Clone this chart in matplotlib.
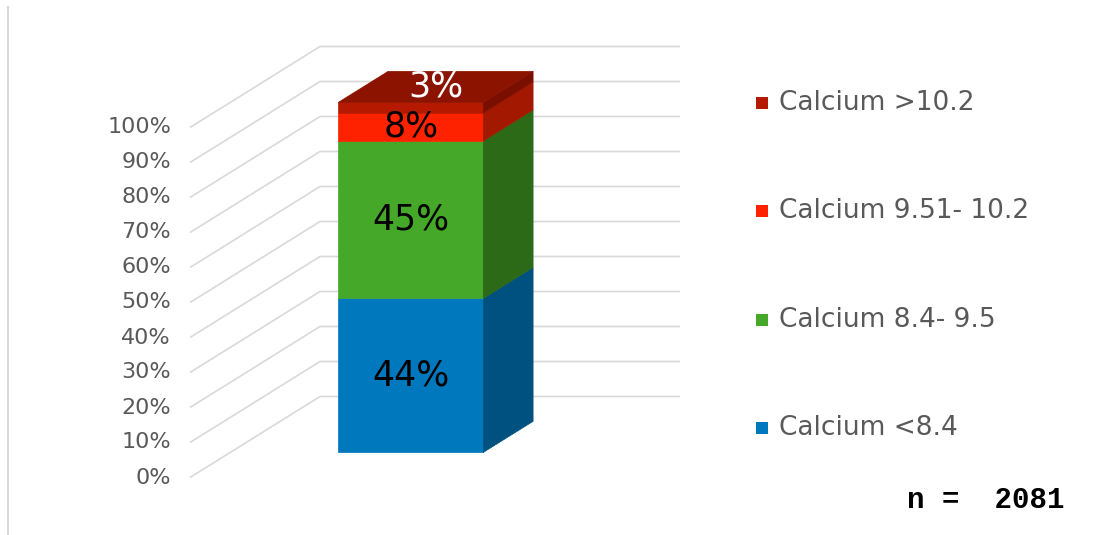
import numpy as np
import matplotlib
matplotlib.use("Agg")
import matplotlib.pyplot as plt
from matplotlib.patches import Polygon, Rectangle
from matplotlib.lines import Line2D

# --- data -------------------------------------------------------------
categories = ["Calcium <8.4", "Calcium 8.4- 9.5", "Calcium 9.51- 10.2", "Calcium >10.2"]
shares = [44, 45, 8, 3]
tick_values = [0, 10, 20, 30, 40, 50, 60, 70, 80, 90, 100]
tick_labels = [f"{v}%" for v in tick_values]
sample_size = 2081

# --- style ------------------------------------------------------------
front_colors = ["#0078BE", "#45A828", "#FF2200", "#B51A00"]
side_colors = ["#00517F", "#2D6A17", "#A31800", "#7A0F00"]
top_color = "#8C1300"
legend_colors = ["#0078BE", "#45A828", "#FF2200", "#B31A00"]
label_colors = ["black", "black", "black", "white"]
grid_color = "#D9D9D9"
text_grey = "#595959"

W, H = 1093, 535
fig = plt.figure(figsize=(W / 100, H / 100), dpi=100)
ax = fig.add_axes([0, 0, 1, 1])

# x runs in pixels, y in percent on the front plane
FLOOR_PX = 477.5
PX_PER_PCT = 3.5
ax.set_xlim(0, W)
ax.set_ylim(-(H - FLOOR_PX) / PX_PER_PCT, FLOOR_PX / PX_PER_PCT)
ax.axis("off")

# oblique projection for the depth axis (d = 0 front, d = 1 back wall)
DEPTH_DX = 130
DEPTH_DY = 81 / PX_PER_PCT


def proj(x, y, d):
    return x + d * DEPTH_DX, y + d * DEPTH_DY


# --- gridlines (side wall diagonal + back wall) ---------------------------
GRID_X0 = 190
GRID_X1 = 680
for v in tick_values:
    fx, fy = proj(GRID_X0, v, 0)
    bx, by = proj(GRID_X0, v, 1)
    ax.plot([fx, bx, GRID_X1], [fy, by, by], color=grid_color, lw=1.2,
            solid_capstyle="butt", zorder=1)

for v, lab in zip(tick_values, tick_labels):
    ax.text(GRID_X0 - 19, v, lab, ha="right", va="center",
            fontsize=16, color=text_grey)

# --- stacked 3D bar -----------------------------------------------------
BAR_X0 = 298
BAR_W = 145
D0, D1 = 0.31, 0.693
x0, x1 = BAR_X0, BAR_X0 + BAR_W
cum = np.concatenate([[0], np.cumsum(shares)])

for i, share in enumerate(shares):
    b, t = cum[i], cum[i + 1]
    front = [proj(x0, b, D0), proj(x1, b, D0), proj(x1, t, D0), proj(x0, t, D0)]
    side = [proj(x1, b, D0), proj(x1, b, D1), proj(x1, t, D1), proj(x1, t, D0)]
    ax.add_patch(Polygon(front, closed=True, facecolor=front_colors[i],
                         edgecolor=front_colors[i], lw=0.5, zorder=3))
    ax.add_patch(Polygon(side, closed=True, facecolor=side_colors[i],
                         edgecolor=side_colors[i], lw=0.5, zorder=3))
    if i == len(shares) - 1:
        top = [proj(x0, t, D0), proj(x1, t, D0), proj(x1, t, D1), proj(x0, t, D1)]
        ax.add_patch(Polygon(top, closed=True, facecolor=top_color,
                             edgecolor=top_color, lw=0.5, zorder=3))

    # value labels: thin segments put their label on the top face
    if share < 5:
        lx, ly = proj((x0 + x1) / 2, t, (D0 + D1) / 2)
    else:
        lx, ly = proj((x0 + x1) / 2, (b + t) / 2, D0)
    ax.text(lx, ly, f"{share}%", ha="center", va="center", fontsize=25,
            color=label_colors[i], zorder=5)

# --- legend (top entry = top of stack) -------------------------------------
LEG_Y0 = 103
LEG_STEP = 108.3
SQ = 12
for k, i in enumerate(range(len(categories) - 1, -1, -1)):
    yc = LEG_Y0 + k * LEG_STEP
    fig.add_artist(Rectangle(((756) / W, 1 - (yc + SQ / 2) / H), SQ / W, SQ / H,
                             transform=fig.transFigure, facecolor=legend_colors[i],
                             edgecolor="none"))
    fig.text(779 / W, 1 - yc / H, categories[i], ha="left", va="center",
             fontsize=19, color=text_grey)

# --- sample size note and frame edge -----------------------------------
fig.text(907 / W, 1 - 508 / H, f"n =  {sample_size}", ha="left", va="baseline",
         fontsize=21, family="Liberation Mono", weight="bold", color="black")
fig.add_artist(Line2D([8 / W, 8 / W], [0, 1 - 7 / H], transform=fig.transFigure,
                      color=grid_color, lw=1.5))

fig.savefig("out.png", dpi=100)
